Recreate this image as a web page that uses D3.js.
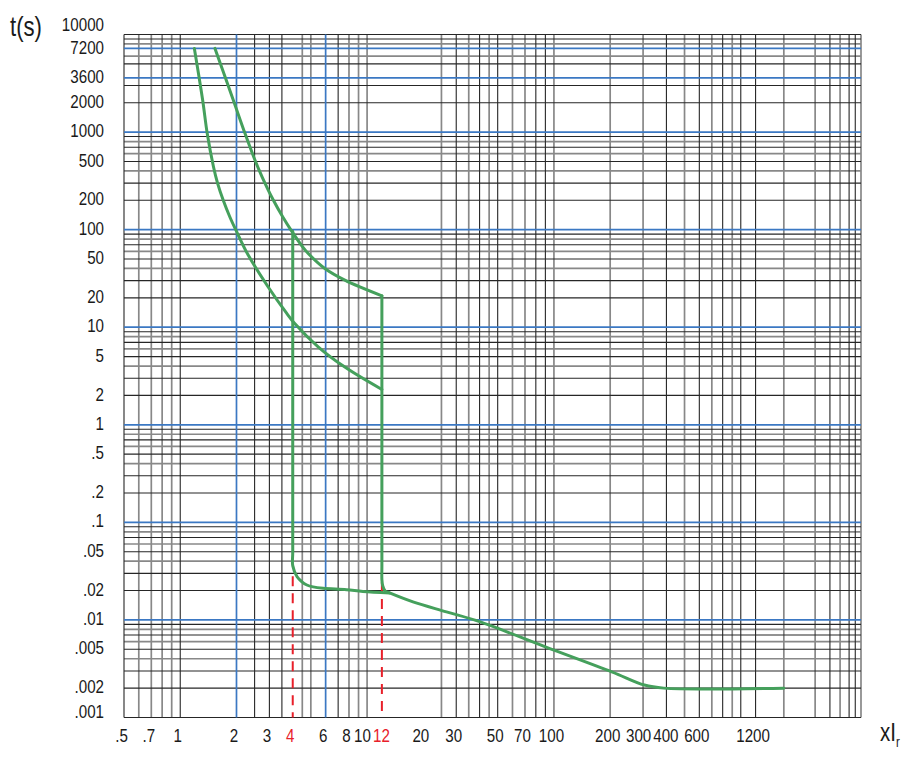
<!DOCTYPE html>
<html><head><meta charset="utf-8">
<script src="https://cdn.jsdelivr.net/npm/d3@7"></script>
<style>
html,body{margin:0;padding:0;background:#fff;}
text{font-family:"Liberation Sans Narrow","Arial Narrow","Liberation Sans",Arial,sans-serif;}
</style></head><body><svg id="c" width="924" height="765"></svg>
<script>
// ---------- data ----------
const xTickValues = [0.5,0.7,1,2,3,4,6,8,10,12,20,30,50,70,100,200,300,400,600,1200];
const xTickLabels = [".5",".7","1","2","3","4","6","8","10","12","20","30","50","70","100","200","300","400","600","1200"];
const xTickHighlight = [4,12];

const yTickValues = [10000,7200,3600,2000,1000,500,200,100,50,20,10,5,2,1,0.5,0.2,0.1,0.05,0.02,0.01,0.005,0.002,0.001];
const yTickLabels = ["10000","7200","3600","2000","1000","500","200","100","50","20","10","5","2","1",".5",".2",".1",".05",".02",".01",".005",".002",".001"];

const xGridBlue  = [2,6];
const xGridDark  = [0.5,1,2.5,3,3.5,7,30,40,50,80,90,400,600,800,1000,1200,3000,3800,4100];
const xGridLight = [0.6,0.7,0.8,0.9,4.5,5,8,9,10,25,35,45,60,70,100,200,300,500,700,900,1700,2500,3400,4400];

const yGridBlue  = [7200,3600,1000,100,10,1,0.1,0.01];
const yGridDark  = [10000,9000,5000,3000,2000,900,700,500,300,200,90,70,50,30,20,9,7,5,3,2,
                    0.9,0.7,0.5,0.3,0.2,0.09,0.07,0.05,0.03,0.02,0.009,0.007,0.005,0.003,0.002,0.001];
const yGridLight = [8000,6000,800,600,400,80,60,40,8,6,4,0.8,0.6,0.4,0.08,0.06,0.04,0.008,0.006,0.004];

// lower (cold) curve
const lowerX = [1.19,1.318,1.394,1.506,1.585,1.697,1.841,2.004,2.31,2.95,3.7,4.1,5.47,7.6,12];
const lowerT = [7200,2131,971,441,298,201,135.6,95.2,54.9,26,14,10.9,6.3,3.9,2.3];
// upper (hot) curve
const upperX = [1.534,1.922,2.22,2.51,2.741,3.147,3.533,3.917,4.515,4.84,5.94,7.6,12];
const upperT = [7200,2131,971,517,348,201,135.6,99,66.8,57,40,30.4,21];
// short-time branch at 4 x Ir
const branch4X = [4,4,4,4.22,4.48,4.76,5.14,5.82,7.76,9.5,13.2];
const branch4T = [96,0.05,0.036,0.0277,0.0246,0.0228,0.0218,0.0211,0.0204,0.0196,0.0189];
// short-time branch at 12 x Ir + instantaneous tail
const branch12X = [12,12,12,12.12,12.5,13.2,17.6,26.6,40,90,204,305,387,1700];
const branch12T = [21,0.035,0.026,0.0225,0.0198,0.0189,0.0153,0.0121,0.0096,0.0053,0.00294,0.00215,0.002,0.002];
// red dashed markers
const markerX = [4,12];
const markerTopT = [0.028,0.0245];

// ---------- drawing ----------
const svg = d3.select("#c");
const x = d3.scaleLog().domain([0.5, 4400]).range([124, 861]);
const y = d3.scaleLog().domain([0.001, 10000]).range([717.5, 34.5]);
const [x0,x1] = x.range(), [y0,y1] = y.range();
const NARROW = 0.82;   // Arial-Narrow-like horizontal compression

const BLUE = "#3b78c3", DARK = "#262626", LIGHT = "#888888", GREEN = "#45a05c", RED = "#e8202a", INK = "#1a1a1a";

const grid = svg.append("g");
function vlines(vals, color, w){
  grid.append("g").selectAll("line").data(vals).join("line")
    .attr("x1", d => x(d)).attr("x2", d => x(d)).attr("y1", y1).attr("y2", y0)
    .attr("stroke", color).attr("stroke-width", w);
}
function hlines(vals, color, w){
  grid.append("g").selectAll("line").data(vals).join("line")
    .attr("y1", d => y(d)).attr("y2", d => y(d)).attr("x1", x0).attr("x2", x1)
    .attr("stroke", color).attr("stroke-width", w);
}
vlines(xGridLight, LIGHT, 1.7);
hlines(yGridLight, LIGHT, 1.7);
vlines(xGridDark, DARK, 1.1);
hlines(yGridDark, DARK, 1.1);
vlines(xGridBlue, BLUE, 1.7);
hlines(yGridBlue, BLUE, 1.7);

// red dashed markers
svg.append("g").selectAll("line").data(markerX).join("line")
  .attr("x1", d => x(d)).attr("x2", d => x(d))
  .attr("y1", (d,i) => y(markerTopT[i])).attr("y2", y0)
  .attr("stroke", RED).attr("stroke-width", 2).attr("stroke-dasharray", "10,7");

// curves
const zip = (a,b) => a.map((v,i) => [v,b[i]]);
const cr = d3.line().x(d => x(d[0])).y(d => y(d[1])).curve(d3.curveCatmullRom.alpha(0.5));
const g = svg.append("g").attr("fill","none").attr("stroke", GREEN)
  .attr("stroke-width", 3).attr("stroke-linejoin","round").attr("stroke-linecap","round");
g.append("path").attr("d", cr(zip(lowerX,lowerT)));
g.append("path").attr("d", cr(zip(upperX,upperT)));
g.append("path").attr("d", cr(zip(branch4X,branch4T)));
g.append("path").attr("d", cr(zip(branch12X,branch12T)));

// x axis labels
const xa = svg.append("g").attr("transform", `translate(0,${y0})`)
  .call(d3.axisBottom(x).tickValues(xTickValues).tickSize(0).tickPadding(11)
        .tickFormat((d,i) => xTickLabels[i]));
xa.attr("font-family", null).select(".domain").remove();
xa.selectAll("text").attr("font-size", 18.5)
  .attr("transform", `scale(${NARROW},1)`).attr("dx", -3 / NARROW)
  .attr("fill", d => xTickHighlight.includes(d) ? RED : INK);

// simple collision relaxation for neighbouring x labels
(function relax(){
  const ticks = xa.selectAll(".tick").nodes();
  const info = ticks.map(t => {
    const tx = +t.getAttribute("transform").match(/translate\(([-\d.]+)/)[1];
    const w = t.querySelector("text").getComputedTextLength() * NARROW;
    return {t, base: tx - 3, w, shift: 0};
  });
  for (let it = 0; it < 20; it++) {
    for (let i = 0; i < info.length - 1; i++) {
      const a = info[i], b = info[i+1];
      const gap = (b.base + b.shift - b.w/2) - (a.base + a.shift + a.w/2);
      if (gap < 2) { const d = (2 - gap) / 2; a.shift -= d; b.shift += d; }
    }
  }
  info.forEach(o => d3.select(o.t).select("text").attr("dx", (-3 + o.shift) / NARROW));
})();

// y axis labels
const n = yTickValues.length;
const ya = svg.append("g").attr("transform", `translate(${x0},0)`)
  .call(d3.axisLeft(y).tickValues(yTickValues).tickSize(0).tickPadding(20)
        .tickFormat((d,i) => yTickLabels[i]));
ya.attr("font-family", null).select(".domain").remove();
ya.selectAll("text").attr("font-size", 18.5).attr("fill", INK)
  .attr("transform", `scale(${NARROW},1)`).attr("x", -20 / NARROW)
  .attr("dy", (d,i) => i === 0 ? "-0.2em" : i === n-1 ? "0.0em" : "0.25em");

// axis titles
svg.append("g").attr("transform", `translate(10,36) scale(${NARROW},1)`)
  .append("text").attr("font-size", 27).attr("fill", INK).text("t(s)");
const xt = svg.append("g").attr("transform", `translate(880,741) scale(${NARROW},1)`)
  .append("text").attr("font-size", 25).attr("fill", INK);
xt.append("tspan").text("xI");
xt.append("tspan").attr("font-size", 14).attr("dy", 6).text("r");
</script></body></html>
